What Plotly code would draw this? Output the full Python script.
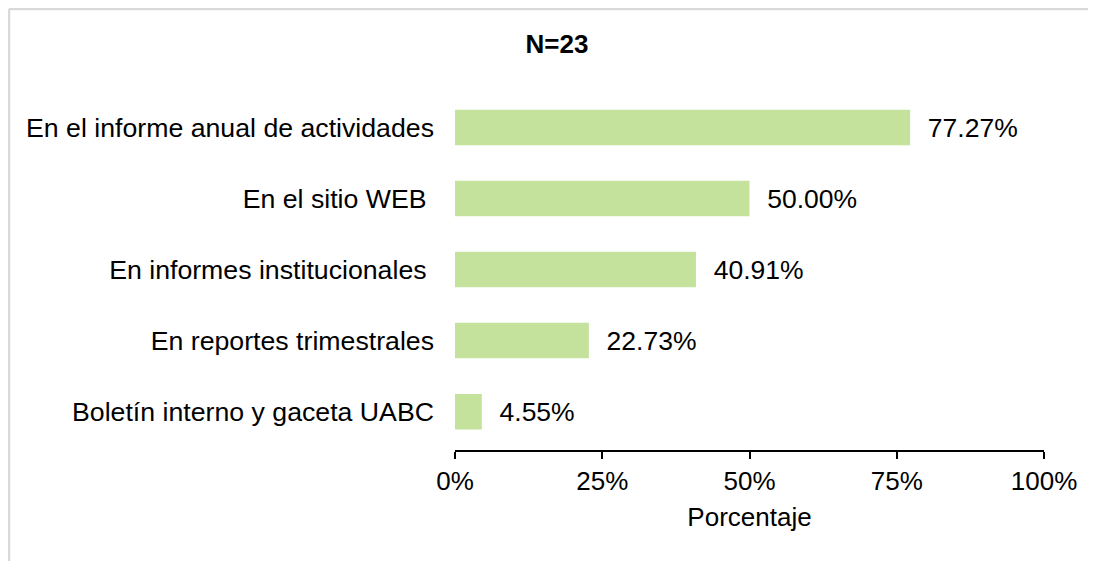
import plotly.graph_objects as go

categories = [
    "Boletín interno y gaceta UABC",
    "En reportes trimestrales",
    "En informes institucionales ",
    "En el sitio WEB ",
    "En el informe anual de actividades",
]
values = [4.55, 22.73, 40.91, 50.00, 77.27]
tick_vals = [0, 25, 50, 75, 100]
tick_text = ["0%", "25%", "50%", "75%", "100%"]

FONT = "Arial, 'Liberation Sans', sans-serif"

fig = go.Figure()
fig.add_trace(go.Bar(
    y=categories,
    x=values,
    orientation="h",
    marker=dict(color="#C4E29B", line=dict(width=0)),
    width=0.5,
    text=[f"  {v:.2f}%" for v in values],
    textposition="outside",
    textfont=dict(family=FONT, size=26.5, color="black"),
    cliponaxis=False,
    hoverinfo="skip",
))

W, H = 1096, 561
L, R, T, B = 447, 60, 84, 119
pw = W - L - R
ph = H - T - B

# chart-area border (only its left and top edges fall inside the window)
bx0 = (1 - L) / pw
bx1 = (W + 20 - L) / pw
by0 = (H - B - (H + 20)) / ph
by1 = (H - B - 1) / ph
border = dict(color="#D9D9D9", width=2.5)

fig.update_layout(
    width=W, height=H,
    margin=dict(l=L, r=R, t=T, b=B),
    paper_bgcolor="white",
    plot_bgcolor="white",
    showlegend=False,
    font=dict(family=FONT, size=26, color="black"),
    title=dict(
        text="<b>N=23</b>",
        font=dict(family=FONT, size=26, color="black"),
        x=549 / W, xref="container", xanchor="center",
        y=1 - 36 / H, yref="container", yanchor="middle",
    ),
    xaxis=dict(
        range=[0, 100],
        tickvals=tick_vals,
        ticktext=tick_text,
        showgrid=False,
        zeroline=False,
        showline=True,
        linecolor="black",
        linewidth=1.5,
        ticks="outside",
        ticklen=7,
        tickwidth=1.5,
        tickcolor="black",
        tickfont=dict(family=FONT, size=26, color="black"),
        title=dict(text="Porcentaje", font=dict(family=FONT, size=26, color="black"), standoff=13),
        fixedrange=True,
    ),
    yaxis=dict(
        range=[-0.54, 4.5],
        showgrid=False,
        zeroline=False,
        showline=False,
        ticks="",
        ticklabelstandoff=20,
        tickfont=dict(family=FONT, size=26.7, color="black"),
        fixedrange=True,
    ),
    shapes=[
        dict(type="line", xref="paper", yref="paper",
             x0=bx0, x1=bx0, y0=by0, y1=by1, line=border, layer="below"),
        dict(type="line", xref="paper", yref="paper",
             x0=bx0, x1=bx1, y0=by1, y1=by1, line=border, layer="below"),
    ],
)

fig.write_html("out.html")
